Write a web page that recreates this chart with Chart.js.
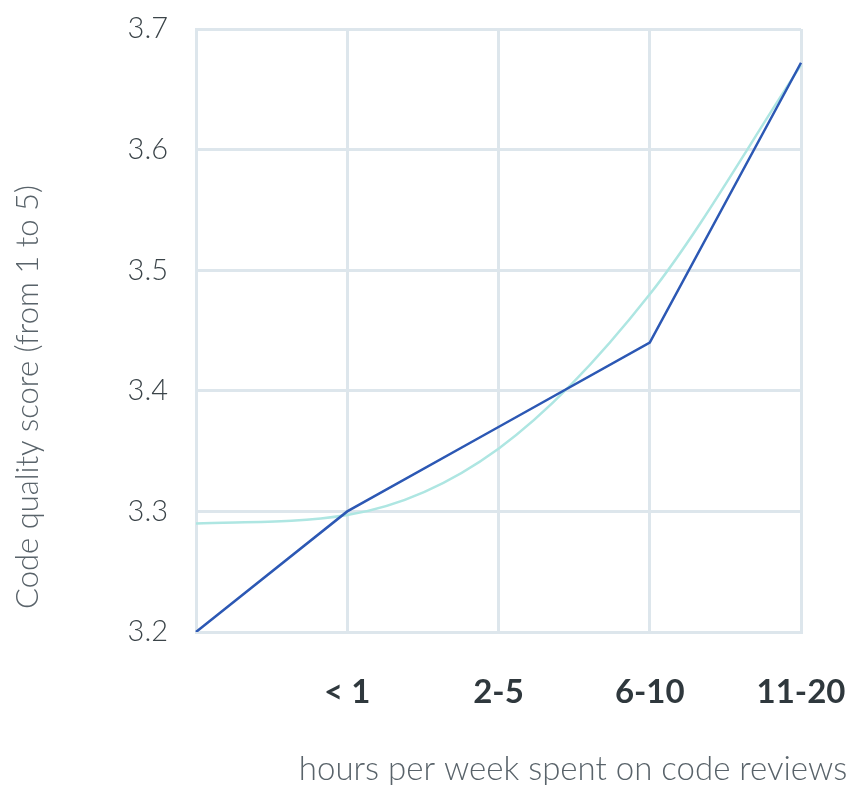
<!DOCTYPE html>
<html>
<head>
<meta charset="utf-8">
<script src="https://cdn.jsdelivr.net/npm/chart.js@4.4.1/dist/chart.umd.min.js"></script>
<style>
  html, body { margin: 0; padding: 0; background: #fff; }
  #wrap { width: 849px; height: 785px; }
</style>
</head>
<body>
<div id="wrap"><canvas id="chart" width="849" height="785"></canvas></div>
<script>
    'use strict';

    // categories on the x axis (first one has no label)
    const categories = ['', '< 1', '2-5', '6-10', '11-20'];
    // measured average score per category
    const scoreValues = [3.2, 3.3, 3.37, 3.44, 3.672];
    // trend line
    const trendValues = [3.29, 3.297, 3.352, 3.48, 3.67];
    const yTicks = [3.2, 3.3, 3.4, 3.5, 3.6, 3.7];

    const xTitle = 'hours per week spent on code reviews';
    const yTitle = 'Code quality score (from 1 to 5)';

    const GRID = '#dde6ec';
    const FONT = 'Lato, "Open Sans", sans-serif';

    // axis titles sit off-centre in the original, so draw them by hand
    const axisTitles = {
        id: 'axisTitles',
        afterDraw(chart) {
            const ctx = chart.ctx;
            ctx.save();
            ctx.fillStyle = '#59636a';
            ctx.textAlign = 'center';
            ctx.textBaseline = 'middle';
            ctx.font = '300 33px ' + FONT;
            ctx.fillText(xTitle, 573, 769);
            ctx.font = '300 31px ' + FONT;
            ctx.translate(28, 397);
            ctx.rotate(-Math.PI / 2);
            ctx.fillText(yTitle, 0, 0);
            ctx.restore();
        }
    };

    // stop the scales from reserving room for overhanging labels
    function noOverhang(scale) {
        scale.paddingLeft = 0;
        scale.paddingRight = 0;
        scale.paddingTop = 0;
        scale.paddingBottom = 0;
    }

    const ctx = document.getElementById('chart').getContext('2d');
    new Chart(ctx, {
        type: 'line',
        data: {
            labels: categories,
            datasets: [
                {
                    label: 'score',
                    data: scoreValues,
                    borderColor: '#2c58b4',
                    borderWidth: 2.5,
                    pointRadius: 0,
                    tension: 0,
                    fill: false
                },
                {
                    label: 'trend',
                    data: trendValues,
                    borderColor: '#aee6e2',
                    borderWidth: 2.5,
                    pointRadius: 0,
                    cubicInterpolationMode: 'monotone',
                    fill: false
                }
            ]
        },
        options: {
            responsive: false,
            animation: false,
            layout: { padding: { top: 29, right: 48, left: 0, bottom: 0 } },
            plugins: {
                legend: { display: false },
                tooltip: { enabled: false }
            },
            scales: {
                x: {
                    offset: false,
                    grid: { color: GRID, lineWidth: 3, drawTicks: false },
                    border: { color: GRID, width: 3 },
                    ticks: {
                        color: '#2f383d',
                        padding: 41,
                        maxRotation: 0,
                        autoSkip: false,
                        font: { family: FONT, size: 33, weight: 'bold' }
                    },
                    afterFit(scale) {
                        scale.height = 153;
                        noOverhang(scale);
                    }
                },
                y: {
                    min: 3.2,
                    max: 3.7,
                    grid: { color: GRID, lineWidth: 3, drawTicks: false },
                    border: { color: GRID, width: 3 },
                    afterBuildTicks(scale) {
                        scale.ticks = yTicks.map(v => ({ value: v }));
                    },
                    ticks: {
                        color: '#3b4449',
                        padding: 28,
                        font: { family: FONT, size: 29, weight: '300' },
                        callback: v => Number(v).toFixed(1)
                    },
                    afterFit(scale) {
                        scale.width = 196;
                        noOverhang(scale);
                    }
                }
            }
        },
        plugins: [axisTitles]
    });
</script>
</body>
</html>
